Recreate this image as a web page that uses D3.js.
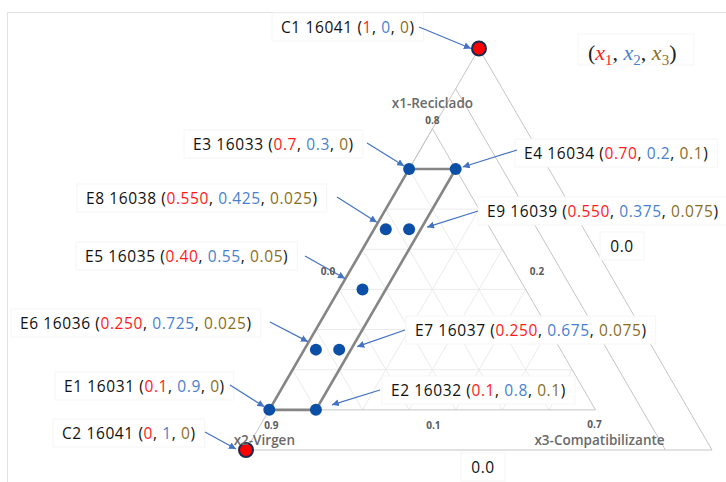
<!DOCTYPE html>
<html lang="es">
<head>
<meta charset="UTF-8">
<title>Diseño de mezclas</title>
<style>
body { margin: 0; background: #fff; }
.lbl { font-family: "Open Sans", sans-serif; font-size: 15.5px; letter-spacing: 0.6px; fill: #111; }
.axisTitle { font-family: "Open Sans", sans-serif; font-size: 13.5px; font-weight: 600; fill: #6a6a6a; text-anchor: middle; }
.tick { font-family: "Open Sans", sans-serif; font-size: 10px; font-weight: 700; fill: #5a5a5a; text-anchor: middle; }
</style>
</head>
<body>
<script src="https://cdn.jsdelivr.net/npm/d3@7"></script>
<script>
// experiment points (x1 reciclado, x2 virgen, x3 compatibilizante)
const names = ['C1', 'C2', 'E1', 'E2', 'E3', 'E4', 'E5', 'E6', 'E7', 'E8', 'E9'];
const codes = ['16041', '16041', '16031', '16032', '16033', '16034', '16035', '16036', '16037', '16038', '16039'];
const x1 = [1, 0, 0.1, 0.1, 0.7, 0.7, 0.40, 0.250, 0.250, 0.550, 0.550];
const x2 = [0, 1, 0.9, 0.8, 0.3, 0.2, 0.55, 0.725, 0.675, 0.425, 0.375];
const x3 = [0, 0, 0, 0.1, 0, 0.1, 0.05, 0.025, 0.075, 0.025, 0.075];
const x1Text = ['1', '0', '0.1', '0.1', '0.7', '0.70', '0.40', '0.250', '0.250', '0.550', '0.550'];
const x2Text = ['0', '1', '0.9', '0.8', '0.3', '0.2', '0.55', '0.725', '0.675', '0.425', '0.375'];
const x3Text = ['0', '0', '0', '0.1', '0', '0.1', '0.05', '0.025', '0.075', '0.025', '0.075'];

// experimental region (E1, E3, E4, E2)
const regionX1 = [0.1, 0.7, 0.7, 0.1];
const regionX2 = [0.9, 0.3, 0.2, 0.8];
const regionX3 = [0, 0, 0.1, 0.1];

// ternary axes minimums (a, b, c)
const axisMin = [0.1, 0.2, 0];
const axisTitles = ['x1-Reciclado', 'x2-Virgen', 'x3-Compatibilizante'];
const cornerTicks = ['0.8', '0.9', '0.7'];
const sideTicks = ['0.0', '0.2', '0.1'];
const extraNotes = ['0.0', '0.0'];

const red = '#ff1a1a', blue = '#4a7fd0', olive = '#8a6d1e';

const W = 726, H = 482;
const svg = d3.select('body').append('svg')
    .attr('width', W)
    .attr('height', H);

const defs = svg.append('defs');
defs.append('marker')
    .attr('id', 'arr')
    .attr('viewBox', '0 0 10 10')
    .attr('refX', 10).attr('refY', 5)
    .attr('markerWidth', 7).attr('markerHeight', 7)
    .attr('markerUnits', 'userSpaceOnUse')
    .attr('orient', 'auto')
    .append('path')
    .attr('d', 'M0,0L10,5L0,10z')
    .attr('fill', '#4472c4');

// ternary projection through linear scales
const yScale = d3.scaleLinear().domain([0, 1]).range([450, 48.5]);
const uScale = d3.scaleLinear().domain([0, 1]).range([246, 712]);
const proj = (a, b, c) => [uScale(c + a / 2), yScale(a)];
const line = d3.line();

// frame
svg.append('line').attr('x1', 8).attr('x2', W).attr('y1', 12.5).attr('y2', 12.5)
    .attr('stroke', '#e2e2e2');
svg.append('line').attr('x1', 7.5).attr('x2', 7.5).attr('y1', 12).attr('y2', H)
    .attr('stroke', '#e2e2e2');

const [amin, bmin, cmin] = axisMin;
const step = d3.range(1, 10).map(d => d / 10);

// grid inside the plotted ternary region
const grid = svg.append('g').attr('stroke', '#ebebeb').attr('stroke-width', 1).attr('fill', 'none');
step.filter(k => k > amin + 1e-9 && k < 1 - bmin - cmin - 1e-9).forEach(k => {
    grid.append('path').attr('d', line([proj(k, 1 - k - cmin, cmin), proj(k, bmin, 1 - k - bmin)]));
});
step.filter(k => k > bmin + 1e-9 && k < 1 - amin - cmin - 1e-9).forEach(k => {
    grid.append('path').attr('d', line([proj(1 - k - cmin, k, cmin), proj(amin, k, 1 - k - amin)]));
});
step.filter(k => k > cmin + 1e-9 && k < 1 - amin - bmin - 1e-9).forEach(k => {
    grid.append('path').attr('d', line([proj(amin, 1 - k - amin, k), proj(1 - k - bmin, bmin, k)]));
});

// inner ternary triangle
const apex = proj(1 - bmin - cmin, bmin, cmin);
const bl = proj(amin, 1 - amin - cmin, cmin);
const br = proj(amin, bmin, 1 - amin - bmin);
svg.append('path')
    .attr('d', line([apex, bl, br]) + 'Z')
    .attr('fill', 'none').attr('stroke', '#c4c4c4').attr('stroke-width', 1);

// full simplex and x2 = 0.1 line
const outer = svg.append('g').attr('fill', 'none').attr('stroke', '#c4c4c4').attr('stroke-width', 1);
outer.append('path').attr('d', line([proj(1, 0, 0), proj(0, 1, 0), proj(0, 0, 1)]) + 'Z');
outer.append('path').attr('d', line([proj(0.9, 0.1, 0), proj(0, 0.1, 0.9)]));

// experimental region
const region = regionX1.map((a, i) => proj(a, regionX2[i], regionX3[i]));
svg.append('path')
    .attr('d', line(region) + 'Z')
    .attr('fill', 'none')
    .attr('stroke', '#858585')
    .attr('stroke-width', 2.6);

// points
const pts = names.map((n, i) => ({ name: n, code: codes[i], a: x1[i], b: x2[i], c: x3[i],
    at: x1Text[i], bt: x2Text[i], ct: x3Text[i] }));

svg.selectAll('.pt')
    .data(pts)
    .enter()
    .append('circle')
    .attr('class', 'pt')
    .attr('cx', d => proj(d.a, d.b, d.c)[0])
    .attr('cy', d => proj(d.a, d.b, d.c)[1])
    .attr('r', d => d.name[0] === 'C' ? 7 : 6)
    .attr('fill', d => d.name[0] === 'C' ? '#ff0000' : '#0b50a6')
    .attr('stroke', d => d.name[0] === 'C' ? '#1c2950' : 'none')
    .attr('stroke-width', 2);

// annotation placement: text left/center-y, arrow start, arrow tip offset from point
const place = {
    C1: { x: 281, y: 27, from: [419, 27], off: [-8, 0] },
    C2: { x: 62, y: 433, from: [205, 432], off: [-10, -1] },
    E1: { x: 64, y: 386, from: [230, 385], off: [-5, -3] },
    E2: { x: 391, y: 390, from: [380, 390], off: [16, -5] },
    E3: { x: 193, y: 144, from: [367, 143], off: [-5, -3] },
    E4: { x: 524, y: 153, from: [517, 150], off: [7, -2] },
    E5: { x: 85, y: 256, from: [305, 256], off: [-17.5, -11] },
    E6: { x: 20, y: 323, from: [270, 322], off: [-8, -8] },
    E7: { x: 415, y: 330, from: [405, 330], off: [18, -3] },
    E8: { x: 86, y: 198, from: [337, 197], off: [-9, -7] },
    E9: { x: 487, y: 211, from: [478, 211], off: [18, -2] }
};

const notes = svg.append('g');
pts.forEach(d => {
    const p = place[d.name];
    const g = notes.append('g');
    const t = g.append('text')
        .attr('class', 'lbl')
        .attr('x', p.x)
        .attr('y', p.y)
        .attr('dominant-baseline', 'central');
    t.append('tspan').text(`${d.name} ${d.code} (`);
    t.append('tspan').attr('fill', red).text(d.at);
    t.append('tspan').text(', ');
    t.append('tspan').attr('fill', blue).text(d.bt);
    t.append('tspan').text(', ');
    t.append('tspan').attr('fill', olive).text(d.ct);
    t.append('tspan').text(')');
    const bb = t.node().getBBox();
    g.insert('rect', 'text')
        .attr('x', bb.x - 9).attr('y', p.y - 14)
        .attr('width', bb.width + 18).attr('height', 28)
        .attr('fill', '#fff').attr('stroke', '#f5f5f5');
});

// extra "0.0" notes
const notePos = [[622, 246], [483, 467]];
extraNotes.forEach((s, i) => {
    const g = notes.append('g');
    g.append('rect')
        .attr('x', notePos[i][0] - 22).attr('y', notePos[i][1] - 14)
        .attr('width', 44).attr('height', 28)
        .attr('fill', '#fff').attr('stroke', '#f5f5f5');
    g.append('text')
        .attr('class', 'lbl')
        .attr('x', notePos[i][0]).attr('y', notePos[i][1])
        .attr('text-anchor', 'middle')
        .attr('dominant-baseline', 'central')
        .text(s);
});

// arrows
pts.forEach(d => {
    const p = place[d.name];
    const q = proj(d.a, d.b, d.c);
    svg.append('line')
        .attr('x1', p.from[0]).attr('y1', p.from[1])
        .attr('x2', q[0] + p.off[0]).attr('y2', q[1] + p.off[1])
        .attr('stroke', '#4472c4')
        .attr('stroke-width', 1.2)
        .attr('marker-end', 'url(#arr)');
});

// axis titles and ticks
svg.append('text').attr('class', 'axisTitle').attr('x', apex[0]).attr('y', apex[1] - 26)
    .attr('dominant-baseline', 'central').text(axisTitles[0]);
svg.append('text').attr('class', 'axisTitle').attr('x', bl[0] - 5).attr('y', bl[1] + 30)
    .attr('dominant-baseline', 'central').text(axisTitles[1]);
svg.append('text').attr('class', 'axisTitle').attr('x', br[0] + 4).attr('y', br[1] + 30)
    .attr('dominant-baseline', 'central').text(axisTitles[2]);

svg.append('text').attr('class', 'tick').attr('x', apex[0]).attr('y', apex[1] - 8.5)
    .attr('dominant-baseline', 'central').text(cornerTicks[0]);
svg.append('text').attr('class', 'tick').attr('x', bl[0] + 2).attr('y', bl[1] + 15)
    .attr('dominant-baseline', 'central').text(cornerTicks[1]);
svg.append('text').attr('class', 'tick').attr('x', br[0] - 1).attr('y', br[1] + 14)
    .attr('dominant-baseline', 'central').text(cornerTicks[2]);

const midY = yScale(0.445);
svg.append('text').attr('class', 'tick').attr('x', 328).attr('y', midY)
    .attr('dominant-baseline', 'central').text(sideTicks[0]);
svg.append('text').attr('class', 'tick').attr('x', 537).attr('y', midY)
    .attr('dominant-baseline', 'central').text(sideTicks[1]);
svg.append('text').attr('class', 'tick').attr('x', (bl[0] + br[0]) / 2 + 1).attr('y', bl[1] + 15)
    .attr('dominant-baseline', 'central').text(sideTicks[2]);

// legend (x1, x2, x3)
svg.append('rect').attr('x', 578).attr('y', 34).attr('width', 116).attr('height', 31)
    .attr('fill', '#fff').attr('stroke', '#f5f5f5');
const leg = svg.append('text')
    .attr('x', 588).attr('y', 60)
    .style('font-family', '"Liberation Serif", serif')
    .style('font-size', '22px')
    .attr('fill', '#222');
leg.append('tspan').text('(');
[[red, '1'], [blue, '2'], [olive, '3']].forEach(([col, n], i) => {
    leg.append('tspan').attr('fill', col).style('font-style', 'italic').text('x');
    leg.append('tspan').attr('fill', col).attr('dy', 5).style('font-size', '15px').text(n);
    leg.append('tspan').attr('dy', -5).text(i < 2 ? ', ' : ')');
});
</script>
</body>
</html>
